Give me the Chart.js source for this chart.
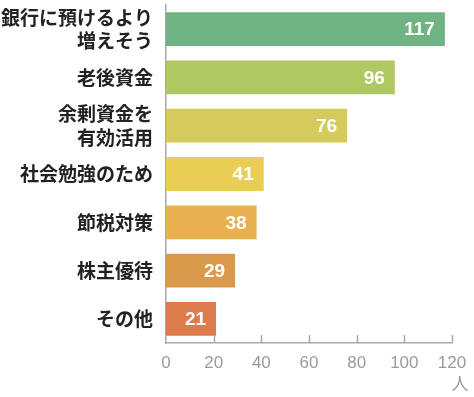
<!DOCTYPE html>
<html>
<head>
<meta charset="utf-8">
<script src="https://cdn.jsdelivr.net/npm/chart.js@4"></script>
<style>
  html, body { margin: 0; padding: 0; background: #fff; }
  #wrap { width: 474px; height: 397px; }
</style>
</head>
<body>
<div id="wrap"><canvas id="chart" width="474" height="397"></canvas></div>
<script>
// data
const categories = [
  ['銀行に預けるより', '増えそう'],
  '老後資金',
  ['余剰資金を', '有効活用'],
  '社会勉強のため',
  '節税対策',
  '株主優待',
  'その他',
];
const counts     = [117, 96, 76, 41, 38, 29, 21];
const barColors  = ['#70b483', '#b0c862', '#d4cb5c', '#e9cd55', '#e8b04e', '#da9a4b', '#de7b4c'];
const xTicks     = [0, 20, 40, 60, 80, 100, 120];
const unitLabel  = '人';

const JP_FONT  = '"Noto Sans CJK JP", "Noto Sans", sans-serif';
const NUM_FONT = '"Liberation Sans", Arial, sans-serif';

// white value text at the end of each bar, upward tick marks, unit label
const barExtras = {
  id: 'barExtras',
  afterDatasetsDraw(chart) {
    const ctx  = chart.ctx;
    const meta = chart.getDatasetMeta(0);
    ctx.save();
    ctx.fillStyle    = '#ffffff';
    ctx.font         = 'bold 19px ' + NUM_FONT;
    ctx.textAlign    = 'right';
    ctx.textBaseline = 'middle';
    meta.data.forEach((bar, i) => {
      ctx.fillText(String(counts[i]), bar.x - 10, bar.y + 1);
    });
    ctx.restore();
  },
  afterDraw(chart) {
    const ctx = chart.ctx;
    const x   = chart.scales.x;
    ctx.save();
    ctx.strokeStyle = '#a9a9a9';
    ctx.lineWidth   = 1.5;
    x.ticks.forEach((t, i) => {
      if (i === 0) return;
      const px = Math.round(x.getPixelForTick(i)) + 0.5;
      ctx.beginPath();
      ctx.moveTo(px, x.top);
      ctx.lineTo(px, x.top - 8);
      ctx.stroke();
    });
    ctx.fillStyle    = '#9a9a9a';
    ctx.font         = '17px ' + JP_FONT;
    ctx.textAlign    = 'center';
    ctx.textBaseline = 'middle';
    ctx.fillText(unitLabel, x.getPixelForValue(xTicks[xTicks.length - 1]) + 8, 384);
    ctx.restore();
  },
};

new Chart(document.getElementById('chart'), {
  type: 'bar',
  data: {
    labels: categories,
    datasets: [{
      data: counts,
      backgroundColor: barColors,
      borderWidth: 0,
      categoryPercentage: 0.7,
      barPercentage: 1.0,
    }],
  },
  options: {
    indexAxis: 'y',
    responsive: false,
    animation: false,
    layout: { padding: { top: 5, right: 22, left: 0, bottom: 0 } },
    plugins: {
      legend: { display: false },
      tooltip: { enabled: false },
    },
    scales: {
      x: {
        min: 0,
        max: 120,
        afterBuildTicks: axis => { axis.ticks = xTicks.map(v => ({ value: v })); },
        afterFit: axis => { axis.height = 54; axis.paddingLeft = 0; axis.paddingRight = 0; },
        grid: { display: false, drawTicks: false },
        border: { display: true, color: '#a9a9a9', width: 1.5 },
        ticks: {
          color: '#9a9a9a',
          padding: 10,
          maxRotation: 0,
          font: { family: NUM_FONT, size: 17 },
        },
      },
      y: {
        afterFit: axis => { axis.width = 166; axis.paddingTop = 0; axis.paddingBottom = 0; },
        grid: { display: false, drawTicks: false },
        border: { display: true, color: '#a9a9a9', width: 1.5 },
        ticks: {
          autoSkip: false,
          color: '#222222',
          padding: 13,
          font: { family: JP_FONT, size: 19, weight: 'bold', lineHeight: 1.22 },
        },
      },
    },
  },
  plugins: [barExtras],
});
</script>
</body>
</html>
